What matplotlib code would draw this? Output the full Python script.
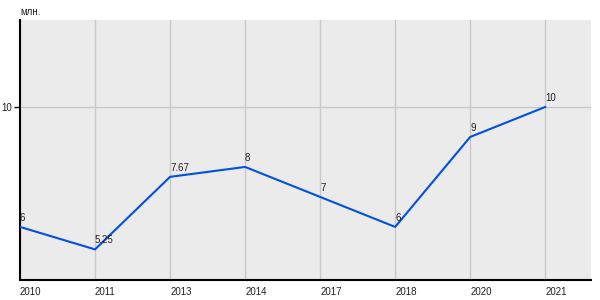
import matplotlib
matplotlib.use('Agg')
import matplotlib.pyplot as plt

# Data
years = ['2010', '2011', '2013', '2014', '2017', '2018', '2020', '2021']
values = [6, 5.25, 7.67, 8, 7, 6, 9, 10]
labels = ['6', '5.25', '7.67', '8', '7', '6', '9', '10']
y_ticks = [10]

plt.rcParams['font.family'] = ['Liberation Sans', 'DejaVu Sans']

fig = plt.figure(figsize=(6, 3), dpi=100)
ax = fig.add_axes([20 / 600, 20 / 300, 571 / 600, 260 / 300])
ax.set_facecolor('#ebebeb')

x = list(range(len(years)))
ax.plot(x, values, color='#0050e6', linewidth=1.5, zorder=3)

# Point labels
for xi, v, lab in zip(x, values, labels):
    ax.annotate(lab, (xi, v), xytext=(0, 3), textcoords='offset points',
                ha='left', va='bottom', fontsize=7, color='#222222', zorder=4)

ax.set_xlim(0, 7.61)
ax.set_ylim(4.23, 12.9)

ax.set_xticks(x)
ax.set_xticklabels(years, ha='left', fontsize=7, color='#222222')
ax.set_yticks(y_ticks)
ax.set_yticklabels([str(t) for t in y_ticks], fontsize=7, color='#222222')
ax.tick_params(axis='x', length=0, pad=5)
ax.tick_params(axis='y', length=4, width=1, pad=2)

ax.grid(True, color='#c8c8c8', linewidth=1)
ax.set_axisbelow(True)

for side in ['top', 'right']:
    ax.spines[side].set_visible(False)
ax.spines['left'].set_linewidth(1.5)
ax.spines['bottom'].set_linewidth(1.5)

fig.text(20 / 600, 1 - 12 / 300, 'млн.', fontsize=7, color='#222222',
         ha='left', va='center')

fig.savefig('out.png', dpi=100)
